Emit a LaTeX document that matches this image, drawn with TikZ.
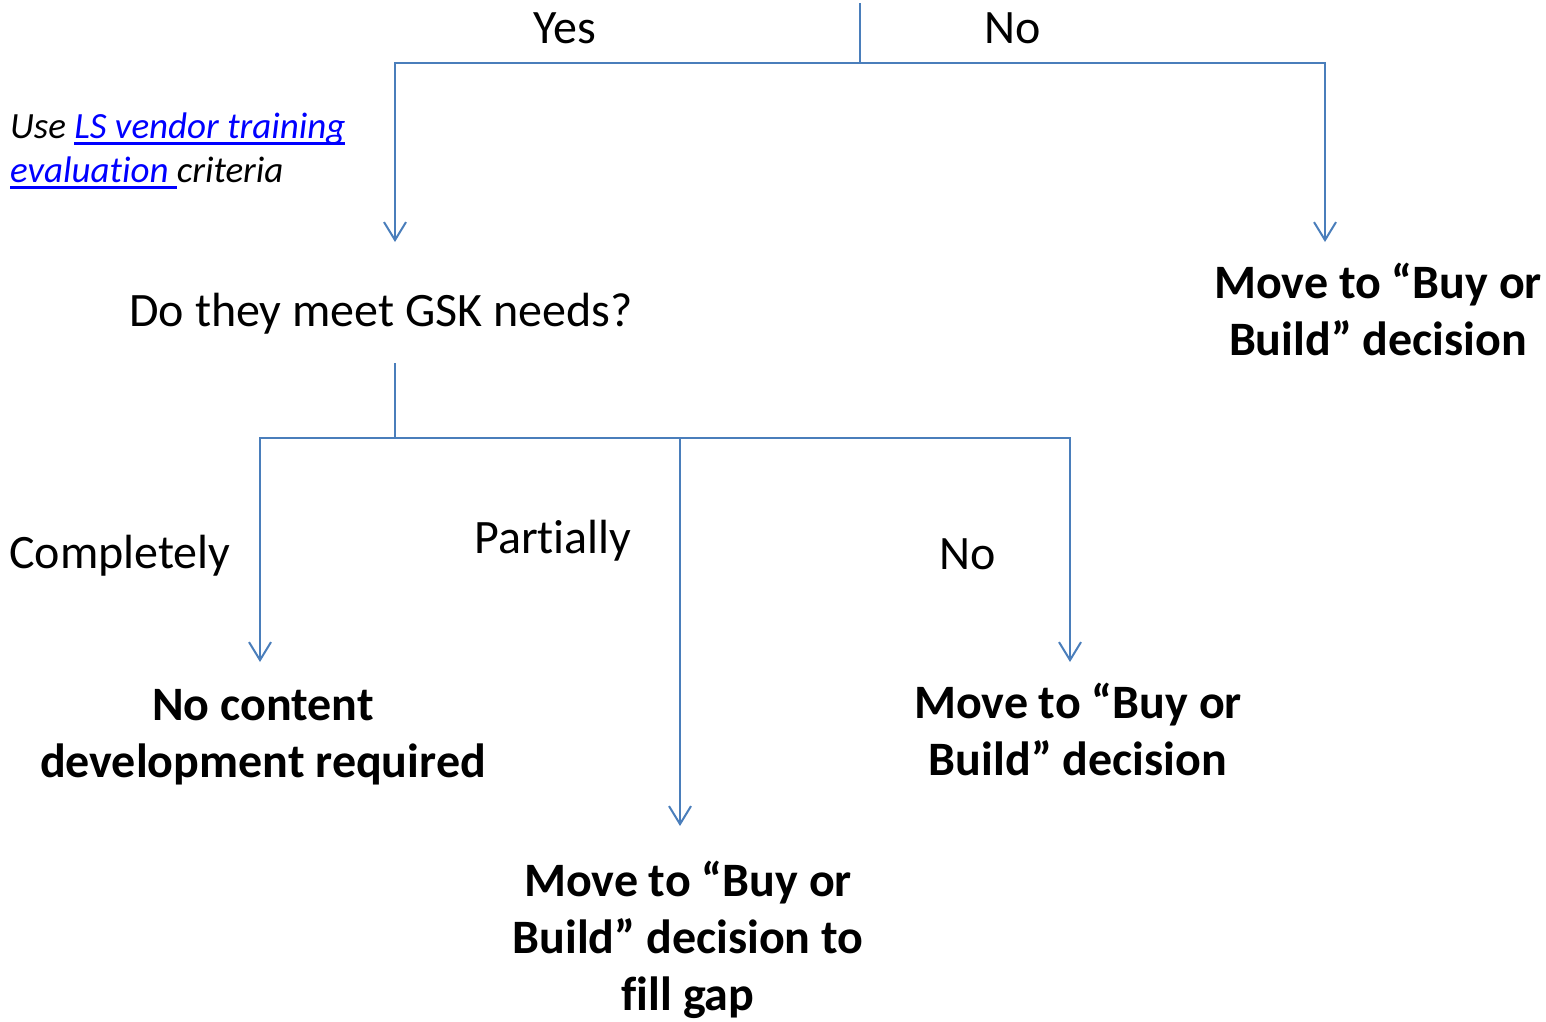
\documentclass[tikz,border=0pt]{standalone}
\usepackage{fontspec}
\setmainfont[Ligatures=NoCommon]{Carlito}
\usetikzlibrary{arrows.meta}
\definecolor{lineblue}{HTML}{4A7EBB}
\definecolor{linkblue}{HTML}{0000FF}
\newcommand{\linktext}[1]{\textcolor{linkblue}{\setbox0\hbox{#1}\rlap{\rule[-6pt]{\wd0}{2.5pt}}\box0}}

\tikzset{
  branch/.style={draw=lineblue, line width=2pt},
  arrowline/.style={branch, -{Straight Barb[length=18pt, width=22pt, line width=2pt]}},
  plain/.style={font=\fontsize{48}{58}\selectfont, inner sep=0pt},
  result/.style={font=\fontsize{48}{57}\selectfont\bfseries, align=center, inner sep=0pt},
  note/.style={font=\fontsize{37}{44}\selectfont\itshape, align=left, inner sep=0pt},
}

\begin{document}
\begin{tikzpicture}[x=1pt, y=-1pt]
\useasboundingbox (0, 0) rectangle (1546, 1021);

% first question: top split
\coordinate (start) at (860, 3);
\coordinate (split) at (860, 63);
\coordinate (yesend) at (395, 242);
\coordinate (noend) at (1325, 242);
\draw [branch] (start) -- (split);
\draw [arrowline] (split) -| (yesend);
\draw [arrowline] (split) -| (noend);
\node [plain] (yes) at (565, 28) {Yes};
\node [plain] (no) at (1013, 28) {No};
\node [note, anchor=west] (criteria) at (10, 151) {Use \linktext{LS vendor training}\\\linktext{evaluation }criteria};
\node [result] (buyright) at (1378, 309) {Move to “Buy or\\Build” decision};

% second question
\node [plain] (needs) at (381, 314) {Do they meet GSK needs?};
\coordinate (stem) at (395, 363);
\coordinate (split2) at (395, 438);
\coordinate (fullend) at (260, 662);
\coordinate (partend) at (680, 826);
\coordinate (noneend) at (1070, 662);
\draw [branch] (stem) -- (split2);
\draw [arrowline] (split2) -| (fullend);
\draw [branch] (split2) -- (680, 438);
\draw [arrowline] (split2) -| (noneend);
\draw [arrowline] (680, 438) -- (partend);
\node [plain] (complete) at (120, 556) {Completely};
\node [plain] (partial) at (553, 541) {Partially};
\node [plain] (none) at (968, 554) {No};

% outcomes
\node [result] (nodev) at (263, 737) {No content\\development required};
\node [result] (buymid) at (1078, 729) {Move to “Buy or\\Build” decision};
\node [result] (buygap) at (688, 940) {Move to “Buy or\\Build” decision to\\fill gap};
\end{tikzpicture}
\end{document}
